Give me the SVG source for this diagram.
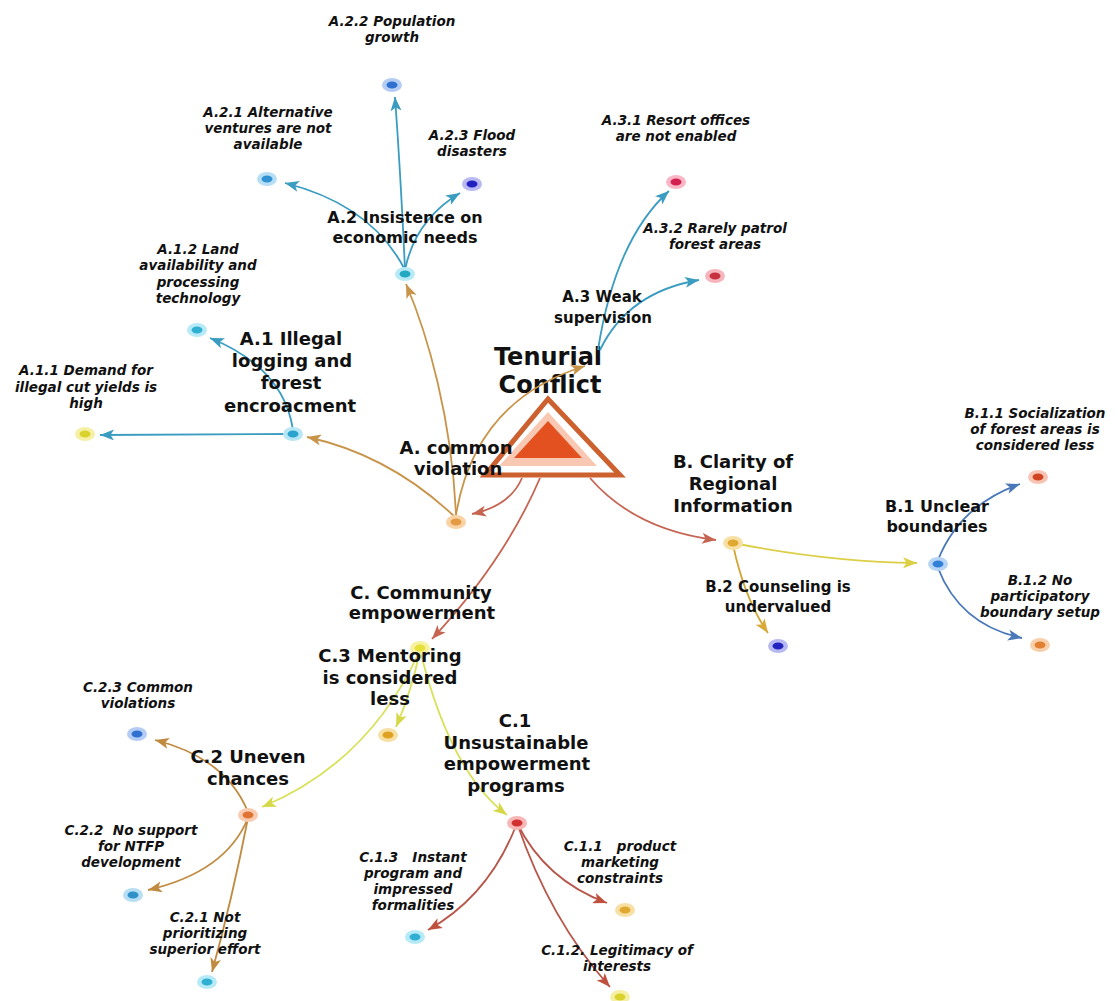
<svg xmlns="http://www.w3.org/2000/svg" width="1118" height="1001" viewBox="0 0 1118 1001">
<style>
text{font-family:"DejaVu Sans",Verdana,sans-serif;font-weight:bold;fill:#111;text-anchor:middle}
.s{font-size:13.5px;font-style:italic}
.m{font-size:18px}
.m16{font-size:16px}
.m15{font-size:15px}
.t{font-size:24px}
.e{fill:none;stroke-width:1.8}
.tan{stroke:#c8944a}
.root{stroke:#c66452}
.blu{stroke:#3a9cc0}
.yel{stroke:#dccf45}
.gold{stroke:#d2a636}
.sb{stroke:#4a78b8}
.cy{stroke:#d9e05a}
.br{stroke:#c08a40}
.rd{stroke:#b8564a}
</style>
<defs>
<marker id="mTan" markerWidth="15" markerHeight="11" refX="14" refY="5.5" orient="auto" markerUnits="userSpaceOnUse"><path d="M0,0 L14,5.5 L0,11 L3.5,5.5 z" fill="#c8944a"/></marker>
<marker id="mRoot" markerWidth="15" markerHeight="11" refX="14" refY="5.5" orient="auto" markerUnits="userSpaceOnUse"><path d="M0,0 L14,5.5 L0,11 L3.5,5.5 z" fill="#c66452"/></marker>
<marker id="mBlu" markerWidth="15" markerHeight="11" refX="14" refY="5.5" orient="auto" markerUnits="userSpaceOnUse"><path d="M0,0 L14,5.5 L0,11 L3.5,5.5 z" fill="#3a9cc0"/></marker>
<marker id="mYel" markerWidth="15" markerHeight="11" refX="14" refY="5.5" orient="auto" markerUnits="userSpaceOnUse"><path d="M0,0 L14,5.5 L0,11 L3.5,5.5 z" fill="#dccf45"/></marker>
<marker id="mGold" markerWidth="15" markerHeight="11" refX="14" refY="5.5" orient="auto" markerUnits="userSpaceOnUse"><path d="M0,0 L14,5.5 L0,11 L3.5,5.5 z" fill="#d8a838"/></marker>
<marker id="mSb" markerWidth="15" markerHeight="11" refX="14" refY="5.5" orient="auto" markerUnits="userSpaceOnUse"><path d="M0,0 L14,5.5 L0,11 L3.5,5.5 z" fill="#4a78b8"/></marker>
<marker id="mCy" markerWidth="15" markerHeight="11" refX="14" refY="5.5" orient="auto" markerUnits="userSpaceOnUse"><path d="M0,0 L14,5.5 L0,11 L3.5,5.5 z" fill="#d6d848"/></marker>
<marker id="mBr" markerWidth="15" markerHeight="11" refX="14" refY="5.5" orient="auto" markerUnits="userSpaceOnUse"><path d="M0,0 L14,5.5 L0,11 L3.5,5.5 z" fill="#c08a40"/></marker>
<marker id="mRd" markerWidth="15" markerHeight="11" refX="14" refY="5.5" orient="auto" markerUnits="userSpaceOnUse"><path d="M0,0 L14,5.5 L0,11 L3.5,5.5 z" fill="#c0503e"/></marker>
</defs>
<rect width="1118" height="1001" fill="#fff"/>

<g id="root">
<polygon points="548,412 499,466 597,466" fill="#f8c8b2"/>
<polygon points="548,421 514,458 582,458" fill="#e2511f"/>
<polygon points="548,399 485,475 620,475" fill="none" stroke="#cc602e" stroke-width="5" stroke-linejoin="miter"/>
<text class="t" x="548" y="365">Tenurial</text><text class="t" x="550" y="393">Conflict</text>
</g>

<g id="connectors">
<path class="e root" d="M522,478 Q510,506 472,514" marker-end="url(#mRoot)"/>
<path class="e root" d="M540,478 Q505,560 432,639" marker-end="url(#mRoot)"/>
<path class="e root" d="M590,478 Q635,530 716,540" marker-end="url(#mRoot)"/>
<path class="e tan" d="M456,518 Q390,455 307,437" marker-end="url(#mTan)"/>
<path class="e tan" d="M456,515 C452,420 428,335 406,284" marker-end="url(#mTan)"/>
<path class="e tan" d="M456,515 Q475,400 585,366" marker-end="url(#mTan)"/>
<path class="e blu" d="M293,434 L100,435" marker-end="url(#mBlu)"/>
<path class="e blu" d="M293,430 Q284,368 210,338" marker-end="url(#mBlu)"/>
<path class="e blu" d="M405,270 Q372,205 285,183" marker-end="url(#mBlu)"/>
<path class="e blu" d="M405,270 Q401,180 395,97" marker-end="url(#mBlu)"/>
<path class="e blu" d="M405,270 Q415,220 460,193" marker-end="url(#mBlu)"/>
<path class="e blu" d="M598,350 Q615,240 669,191" marker-end="url(#mBlu)"/>
<path class="e blu" d="M600,350 Q628,292 699,280" marker-end="url(#mBlu)"/>
<path class="e yel" d="M733,543 Q830,562 917,563" marker-end="url(#mYel)"/>
<path class="e gold" d="M733,545 Q745,600 768,633" marker-end="url(#mGold)"/>
<path class="e sb" d="M938,560 Q960,505 1020,484" marker-end="url(#mSb)"/>
<path class="e sb" d="M938,568 Q960,625 1022,638" marker-end="url(#mSb)"/>
<path class="e cy" d="M420,650 Q412,690 396,727" marker-end="url(#mCy)"/>
<path class="e cy" d="M420,650 Q370,762 262,807" marker-end="url(#mCy)"/>
<path class="e cy" d="M420,650 Q450,772 507,815" marker-end="url(#mCy)"/>
<path class="e br" d="M248,812 Q226,758 155,740" marker-end="url(#mBr)"/>
<path class="e br" d="M248,818 Q226,872 148,890" marker-end="url(#mBr)"/>
<path class="e br" d="M248,818 Q232,900 212,972" marker-end="url(#mBr)"/>
<path class="e rd" d="M517,823 Q490,895 428,930" marker-end="url(#mRd)"/>
<path class="e rd" d="M517,823 Q545,880 607,903" marker-end="url(#mRd)"/>
<path class="e rd" d="M517,823 Q550,920 610,987" marker-end="url(#mRd)"/>
</g>

<g id="A">
<ellipse cx="456" cy="522" rx="10" ry="7" fill="#f9d2a6"/><ellipse cx="456" cy="522" rx="5.5" ry="3.5" fill="#e39a42"/>
<text class="m" x="456" y="454">A. common</text><text class="m" x="458" y="475">violation</text>
</g>
<g id="A1">
<ellipse cx="293" cy="434" rx="10" ry="7" fill="#b7e6f5"/><ellipse cx="293" cy="434" rx="5.5" ry="3.5" fill="#2aa3cf"/>
<text class="m" x="291" y="345">A.1 Illegal</text><text class="m" x="292" y="367">logging and</text><text class="m" x="291" y="389">forest</text><text class="m" x="290" y="412">encroacment</text>
</g>
<g id="A11">
<ellipse cx="85" cy="434" rx="10" ry="7" fill="#f5f0a6"/><ellipse cx="85" cy="434" rx="5.5" ry="3.5" fill="#d9d22c"/>
<text class="s" x="86" y="375">A.1.1 Demand for</text><text class="s" x="86" y="392">illegal cut yields is</text><text class="s" x="86" y="408">high</text>
</g>
<g id="A12">
<ellipse cx="197" cy="330" rx="10" ry="7" fill="#b7eaf7"/><ellipse cx="197" cy="330" rx="5.5" ry="3.5" fill="#2fb0d2"/>
<text class="s" x="198" y="254">A.1.2 Land</text><text class="s" x="198" y="270">availability and</text><text class="s" x="198" y="287">processing</text><text class="s" x="198" y="303">technology</text>
</g>
<g id="A2">
<ellipse cx="405" cy="274" rx="10" ry="7" fill="#b7eaf5"/><ellipse cx="405" cy="274" rx="5.5" ry="3.5" fill="#22a8c0"/>
<text class="m16" x="405" y="223">A.2 Insistence on</text><text class="m16" x="405" y="243">economic needs</text>
</g>
<g id="A21">
<ellipse cx="267" cy="179" rx="10" ry="7" fill="#b6def5"/><ellipse cx="267" cy="179" rx="5.5" ry="3.5" fill="#3291d0"/>
<text class="s" x="268" y="117">A.2.1 Alternative</text><text class="s" x="268" y="133">ventures are not</text><text class="s" x="268" y="149">available</text>
</g>
<g id="A22">
<ellipse cx="392" cy="85" rx="10" ry="7" fill="#b5cdf4"/><ellipse cx="392" cy="85" rx="5.5" ry="3.5" fill="#3070d0"/>
<text class="s" x="392" y="26">A.2.2 Population</text><text class="s" x="392" y="42">growth</text>
</g>
<g id="A23">
<ellipse cx="472" cy="184" rx="10" ry="7" fill="#b8b8f2"/><ellipse cx="472" cy="184" rx="5.5" ry="3.5" fill="#2222c0"/>
<text class="s" x="472" y="140">A.2.3 Flood</text><text class="s" x="472" y="156">disasters</text>
</g>
<g id="A3">
<text class="m15" x="602" y="302">A.3 Weak</text><text class="m15" x="603" y="323">supervision</text>
</g>
<g id="A31">
<ellipse cx="676" cy="182" rx="10" ry="7" fill="#f8b6c6"/><ellipse cx="676" cy="182" rx="5.5" ry="3.5" fill="#d42050"/>
<text class="s" x="676" y="125">A.3.1 Resort offices</text><text class="s" x="676" y="141">are not enabled</text>
</g>
<g id="A32">
<ellipse cx="715" cy="276" rx="10" ry="7" fill="#f6b5bd"/><ellipse cx="715" cy="276" rx="5.5" ry="3.5" fill="#c83040"/>
<text class="s" x="715" y="233">A.3.2 Rarely patrol</text><text class="s" x="715" y="249">forest areas</text>
</g>
<g id="B">
<ellipse cx="733" cy="543" rx="10" ry="7" fill="#f8e0a4"/><ellipse cx="733" cy="543" rx="5.5" ry="3.5" fill="#dfa830"/>
<text class="m" x="733" y="468">B. Clarity of</text><text class="m" x="733" y="490">Regional</text><text class="m" x="733" y="512">Information</text>
</g>
<g id="B1">
<ellipse cx="938" cy="564" rx="10" ry="7" fill="#b6d4f6"/><ellipse cx="938" cy="564" rx="5.5" ry="3.5" fill="#3080d8"/>
<text class="m16" x="937" y="512">B.1 Unclear</text><text class="m16" x="937" y="532">boundaries</text>
</g>
<g id="B11">
<ellipse cx="1038" cy="477" rx="10" ry="7" fill="#f8c4b4"/><ellipse cx="1038" cy="477" rx="5.5" ry="3.5" fill="#d04422"/>
<text class="s" x="1035" y="418">B.1.1 Socialization</text><text class="s" x="1035" y="434">of forest areas is</text><text class="s" x="1035" y="450">considered less</text>
</g>
<g id="B12">
<ellipse cx="1040" cy="645" rx="10" ry="7" fill="#f9d0ac"/><ellipse cx="1040" cy="645" rx="5.5" ry="3.5" fill="#e08030"/>
<text class="s" x="1040" y="585">B.1.2 No</text><text class="s" x="1040" y="601">participatory</text><text class="s" x="1040" y="617">boundary setup</text>
</g>
<g id="B2">
<ellipse cx="778" cy="646" rx="10" ry="7" fill="#b8b8f2"/><ellipse cx="778" cy="646" rx="5.5" ry="3.5" fill="#2222c0"/>
<text class="m15" x="778" y="592">B.2 Counseling is</text><text class="m15" x="778" y="612">undervalued</text>
</g>
<g id="C">
<ellipse cx="420" cy="648" rx="10" ry="7" fill="#f6f2a2"/><ellipse cx="420" cy="648" rx="5.5" ry="3.5" fill="#e6e03a"/>
<text class="m" x="421" y="599">C. Community</text><text class="m" x="422" y="619">empowerment</text>
</g>
<g id="C3">
<ellipse cx="388" cy="735" rx="10" ry="7" fill="#f8e0a4"/><ellipse cx="388" cy="735" rx="5.5" ry="3.5" fill="#e0a020"/>
<text class="m" x="390" y="662">C.3 Mentoring</text><text class="m" x="390" y="684">is considered</text><text class="m" x="390" y="705">less</text>
</g>
<g id="C2">
<ellipse cx="248" cy="815" rx="10" ry="7" fill="#f9ccb2"/><ellipse cx="248" cy="815" rx="5.5" ry="3.5" fill="#e07434"/>
<text class="m" x="248" y="763">C.2 Uneven</text><text class="m" x="248" y="785">chances</text>
</g>
<g id="C23">
<ellipse cx="137" cy="734" rx="10" ry="7" fill="#b5cdf4"/><ellipse cx="137" cy="734" rx="5.5" ry="3.5" fill="#3070d0"/>
<text class="s" x="138" y="692">C.2.3 Common</text><text class="s" x="138" y="708">violations</text>
</g>
<g id="C22">
<ellipse cx="133" cy="895" rx="10" ry="7" fill="#b6def5"/><ellipse cx="133" cy="895" rx="5.5" ry="3.5" fill="#3090c8"/>
<text class="s" x="131" y="835">C.2.2 &#160;No support</text><text class="s" x="131" y="851">for NTFP</text><text class="s" x="131" y="867">development</text>
</g>
<g id="C21">
<ellipse cx="207" cy="982" rx="10" ry="7" fill="#b7eaf7"/><ellipse cx="207" cy="982" rx="5.5" ry="3.5" fill="#2fb0d2"/>
<text class="s" x="205" y="922">C.2.1 Not</text><text class="s" x="205" y="938">prioritizing</text><text class="s" x="205" y="954">superior effort</text>
</g>
<g id="C1">
<ellipse cx="517" cy="823" rx="10" ry="7" fill="#f8b6b6"/><ellipse cx="517" cy="823" rx="5.5" ry="3.5" fill="#d03030"/>
<text class="m" x="515" y="727">C.1</text><text class="m" x="516" y="749">Unsustainable</text><text class="m" x="517" y="770">empowerment</text><text class="m" x="516" y="792">programs</text>
</g>
<g id="C13">
<ellipse cx="415" cy="937" rx="10" ry="7" fill="#b7eaf7"/><ellipse cx="415" cy="937" rx="5.5" ry="3.5" fill="#2fb0d2"/>
<text class="s" x="413" y="862">C.1.3 &#160;&#160;Instant</text><text class="s" x="413" y="878">program and</text><text class="s" x="413" y="894">impressed</text><text class="s" x="413" y="910">formalities</text>
</g>
<g id="C11">
<ellipse cx="625" cy="910" rx="10" ry="7" fill="#f8e0a4"/><ellipse cx="625" cy="910" rx="5.5" ry="3.5" fill="#e0a830"/>
<text class="s" x="620" y="851">C.1.1 &#160;&#160;product</text><text class="s" x="620" y="867">marketing</text><text class="s" x="620" y="883">constraints</text>
</g>
<g id="C12">
<ellipse cx="620" cy="997" rx="10" ry="7" fill="#f5f0a6"/><ellipse cx="620" cy="997" rx="5.5" ry="3.5" fill="#d9d22c"/>
<text class="s" x="617" y="955">C.1.2. Legitimacy of</text><text class="s" x="617" y="971">interests</text>
</g>
</svg>
